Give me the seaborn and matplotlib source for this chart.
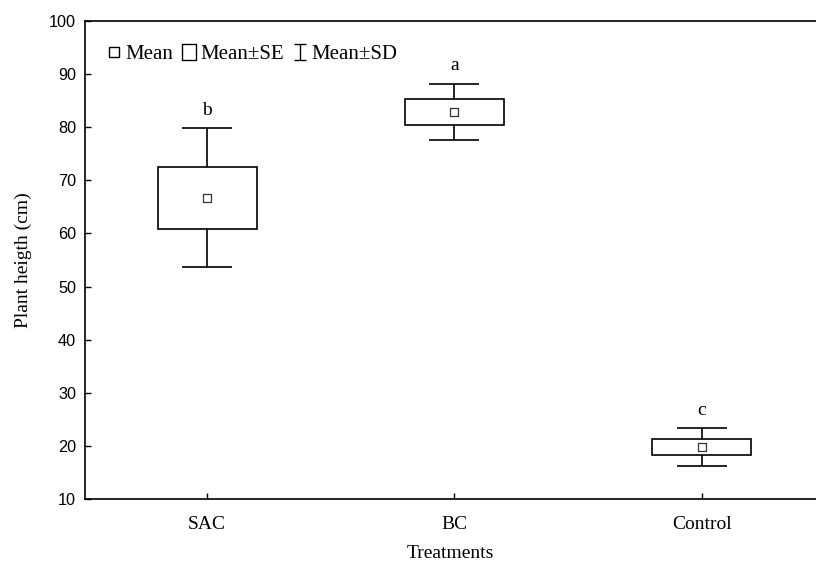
import matplotlib
matplotlib.use("Agg")
import matplotlib.pyplot as plt
import seaborn as sns
import pandas as pd
import numpy as np
from matplotlib.lines import Line2D
from matplotlib.path import Path

# ---- data ----
categories = ["SAC", "BC", "Control"]
means = [66.7, 82.9, 19.8]
se = [5.85, 2.45, 1.55]
sd = [13.1, 5.3, 3.6]
letters = ["b", "a", "c"]
yticks = [10, 20, 30, 40, 50, 60, 70, 80, 90, 100]

df = pd.DataFrame({"Treatment": categories, "Mean": means, "SE": se, "SD": sd, "Letter": letters})

sns.set_style("ticks")
plt.rcParams["font.family"] = ["Liberation Serif", "DejaVu Serif"]
plt.rcParams["text.color"] = "black"
plt.rcParams["axes.labelcolor"] = "black"
plt.rcParams["xtick.color"] = "black"
plt.rcParams["ytick.color"] = "black"

fig = plt.figure(figsize=(8.16, 5.66), dpi=100)
ax = fig.add_axes([0.1042, 0.1184, 0.8958, 0.8445])

x = np.arange(len(categories))

# SD whiskers
ax.errorbar(x, df["Mean"], yerr=df["SD"], fmt="none", ecolor="black",
            elinewidth=1.2, capsize=18, capthick=1.2, zorder=1)
# SE boxes
ax.bar(x, 2 * df["SE"], bottom=df["Mean"] - df["SE"], width=0.4,
       facecolor="white", edgecolor="black", linewidth=1.2, zorder=2)
# mean markers
sns.scatterplot(x=x, y=df["Mean"], marker="s", s=30, facecolor="white",
                edgecolor="#333333", linewidth=0.9, ax=ax, zorder=3)

# letters
for xi, m, s_, lab in zip(x, df["Mean"], df["SD"], df["Letter"]):
    ax.text(xi, m + s_ + 2.5, lab, ha="center", va="baseline", fontsize=14,
            family=["Liberation Serif"], color="black")

ax.set_xlim(-0.493, 2.461)
ax.set_ylim(10, 100)
ax.set_yticks(yticks)
ax.set_xticks(x)
ax.set_xticklabels(categories, fontsize=14, family=["Liberation Serif"])
ax.set_yticklabels([str(t) for t in yticks], fontsize=11.7, family=["Liberation Sans"])
ax.tick_params(axis="both", direction="in", length=4, width=1, color="black", labelcolor="black")
ax.tick_params(axis="x", pad=12)
ax.tick_params(axis="y", pad=6.5)

for sp in ["left", "bottom", "top"]:
    ax.spines[sp].set_linewidth(1.2)
    ax.spines[sp].set_color("black")
ax.spines["right"].set_visible(False)

ax.set_xlabel("Treatments", fontsize=14, labelpad=9, color="black")
ax.set_ylabel("Plant heigth (cm)", fontsize=14, labelpad=12, color="black")

# legend
box_path = Path([(-0.43, -0.5), (0.43, -0.5), (0.43, 0.5), (-0.43, 0.5), (-0.43, -0.5)],
                [Path.MOVETO, Path.LINETO, Path.LINETO, Path.LINETO, Path.CLOSEPOLY])
ibar_path = Path([(-0.4, 0.5), (0.4, 0.5), (0, 0.5), (0, -0.5), (-0.4, -0.5), (0.4, -0.5)],
                 [Path.MOVETO, Path.LINETO, Path.MOVETO, Path.LINETO, Path.MOVETO, Path.LINETO])
handles = [
    Line2D([], [], marker="s", linestyle="none", markersize=6.5, markerfacecolor="white",
           markeredgecolor="black", markeredgewidth=1.0),
    Line2D([], [], marker=box_path, linestyle="none", markersize=11, markerfacecolor="white",
           markeredgecolor="black", markeredgewidth=1.0),
    Line2D([], [], marker=ibar_path, linestyle="none", markersize=11, markerfacecolor="none",
           markeredgecolor="black", markeredgewidth=1.0),
]
leg = ax.legend(handles, ["Mean", "Mean±SE", "Mean±SD"], loc="center left", ncol=3,
                frameon=False, fontsize=15, handlelength=0.65, handletextpad=0.2,
                columnspacing=0.45, borderpad=0, borderaxespad=0,
                bbox_to_anchor=(0.031, 0.93))

fig.savefig("out.png", dpi=100)
